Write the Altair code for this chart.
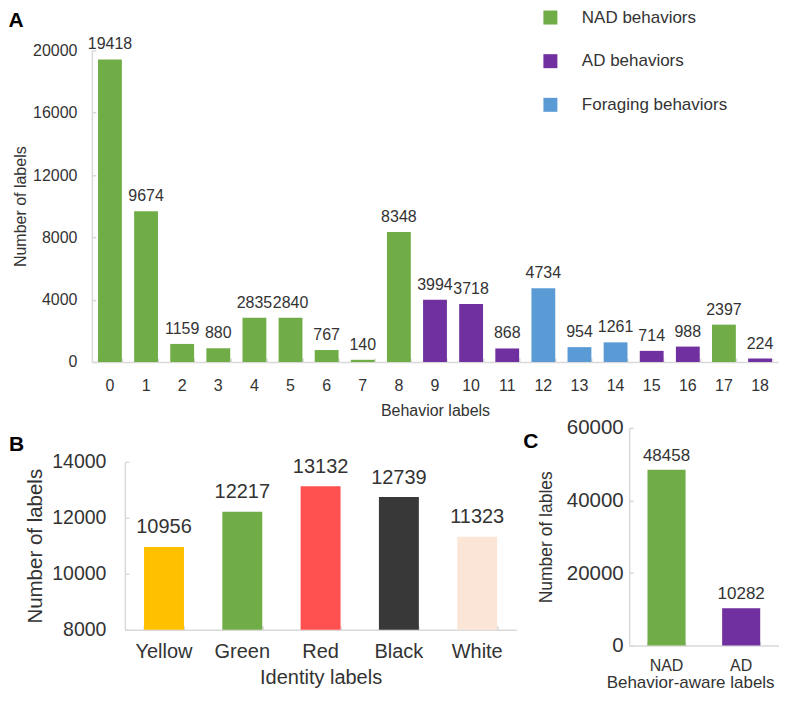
import altair as alt
import pandas as pd

# ---------------- data ----------------
behav_labels = list(range(19))
behav_counts = [19418, 9674, 1159, 880, 2835, 2840, 767, 140, 8348, 3994,
                3718, 868, 4734, 954, 1261, 714, 988, 2397, 224]
behav_groups = ["NAD behaviors"] * 9 + ["AD behaviors"] * 3 + ["Foraging behaviors"] * 3 + \
               ["AD behaviors", "AD behaviors", "NAD behaviors", "AD behaviors"]
group_names = ["NAD behaviors", "AD behaviors", "Foraging behaviors"]
group_colors = ["#70AD47", "#7030A0", "#5B9BD5"]
ticksA = [0, 4000, 8000, 12000, 16000, 20000]

id_labels = ["Yellow", "Green", "Red", "Black", "White"]
id_counts = [10956, 12217, 13132, 12739, 11323]
id_colors = ["#FFC000", "#70AD47", "#FF5050", "#383838", "#FBE5D6"]
ticksB = [8000, 10000, 12000, 14000]

aware_labels = ["NAD", "AD"]
aware_counts = [48458, 10282]
aware_colors = ["#70AD47", "#7030A0"]
ticksC = [0, 20000, 40000, 60000]

FONT = "Liberation Sans"
TEXT = "#333333"
AXIS = "#D9D9D9"

WA, HA = 687.1, 312
WB, HB = 392, 202
WC, HC = 149.5, 218


def inner_x(h):
    # tick-only axis drawn on the bottom edge with ticks pointing up (inside)
    return alt.Axis(orient="top", offset=-h, labels=False, domain=False, title=None,
                    tickBand="extent", tickSize=4)


def inner_y(w, values):
    # tick-only axis drawn on the left edge with ticks pointing right (inside)
    return alt.Axis(orient="right", offset=-w, labels=False, domain=False, title=None,
                    values=values, tickSize=4)


# ---------------- panel A ----------------
dfA = pd.DataFrame({"label": behav_labels, "count": behav_counts, "group": behav_groups})
baseA = alt.Chart(dfA)
scxA = alt.Scale(paddingInner=0.34, paddingOuter=0.17, round=False)
scyA = alt.Scale(domain=[0, 20000], nice=False)
barsA = baseA.mark_bar().encode(
    x=alt.X("label:O", scale=scxA,
            axis=alt.Axis(title="Behavior labels", labelAngle=0, labelFontSize=16,
                          titleFontSize=16, tickSize=0, labelPadding=16, titlePadding=9)),
    y=alt.Y("count:Q", scale=scyA,
            axis=alt.Axis(title="Number of labels", values=ticksA, format="d",
                          labelFontSize=16, titleFontSize=16, tickSize=0,
                          labelPadding=15, titlePadding=4)),
    color=alt.Color("group:N", scale=alt.Scale(domain=group_names, range=group_colors),
                    legend=alt.Legend(title=None, orient="none", legendX=450.6, legendY=-41.4,
                                      symbolType="square", symbolSize=196, symbolStrokeWidth=0,
                                      labelFontSize=17, labelOffset=23, rowPadding=25.7,
                                      padding=0)))
textA = baseA.mark_text(baseline="alphabetic", dy=-10, fontSize=16, color=TEXT).encode(
    x=alt.X("label:O", scale=scxA, axis=inner_x(HA)),
    y=alt.Y("count:Q", scale=scyA, axis=inner_y(WA, ticksA)),
    text=alt.Text("count:Q", format="d"))
A = (barsA + textA).resolve_axis(x="independent", y="independent").properties(
    width=WA, height=HA,
    title=alt.TitleParams("A", anchor="start", frame="group", dx=-83.4, offset=-22,
                          fontSize=21, fontWeight="bold", color="#000000"))

# ---------------- panel B ----------------
dfB = pd.DataFrame({"label": id_labels, "count": id_counts, "color": id_colors})
baseB = alt.Chart(dfB)
scxB = alt.Scale(paddingInner=0.49, paddingOuter=0.245, round=False)
scyB = alt.Scale(domain=[8000, 14000], nice=False, zero=False, range=[HB, 34])
barsB = baseB.mark_bar(clip=True).encode(
    x=alt.X("label:N", sort=id_labels, scale=scxB,
            axis=alt.Axis(title="Identity labels", labelAngle=0, labelFontSize=20,
                          titleFontSize=20, tickSize=0, labelPadding=11.7, titlePadding=6.7)),
    y=alt.Y("count:Q", scale=scyB,
            axis=alt.Axis(title="Number of labels", values=ticksB, format="d",
                          labelFontSize=19.5, titleFontSize=20.5, tickSize=0,
                          labelPadding=19, titlePadding=6)),
    color=alt.Color("color:N", scale=None))
textB = baseB.mark_text(baseline="alphabetic", dy=-13.5, fontSize=20, color=TEXT).encode(
    x=alt.X("label:N", sort=id_labels, scale=scxB, axis=inner_x(HB)),
    y=alt.Y("count:Q", scale=scyB, axis=inner_y(WB, ticksB)),
    text=alt.Text("count:Q", format="d"))
B = (barsB + textB).resolve_axis(x="independent", y="independent").properties(
    width=WB, height=HB,
    title=alt.TitleParams("B", anchor="start", frame="group", dx=-116, dy=35, offset=8,
                          fontSize=21, fontWeight="bold", color="#000000"))

# ---------------- panel C ----------------
dfC = pd.DataFrame({"label": aware_labels, "count": aware_counts, "color": aware_colors})
baseC = alt.Chart(dfC)
scxC = alt.Scale(paddingInner=0.49, paddingOuter=0.245, round=False)
scyC = alt.Scale(domain=[0, 60000], nice=False)
barsC = baseC.mark_bar().encode(
    x=alt.X("label:N", sort=aware_labels, scale=scxC,
            axis=alt.Axis(title="Behavior-aware labels", labelAngle=0, labelFontSize=16,
                          titleFontSize=17, tickSize=0, labelPadding=11.6, titlePadding=1.5,
                          titleX=61, titleAlign="center")),
    y=alt.Y("count:Q", scale=scyC,
            axis=alt.Axis(title="Number of lables", values=ticksC, format="d",
                          labelFontSize=20.5, titleFontSize=17.5, tickSize=0,
                          labelPadding=6, titlePadding=11)),
    color=alt.Color("color:N", scale=None))
textC = baseC.mark_text(baseline="alphabetic", dy=-9, fontSize=17, color=TEXT).encode(
    x=alt.X("label:N", sort=aware_labels, scale=scxC, axis=inner_x(HC)),
    y=alt.Y("count:Q", scale=scyC, axis=inner_y(WC, ticksC)),
    text=alt.Text("count:Q", format="d"))
C = (barsC + textC).resolve_axis(x="independent", y="independent").properties(
    width=WC, height=HC,
    title=alt.TitleParams("C", anchor="start", frame="group", dx=-106, dy=42, offset=8,
                          fontSize=21, fontWeight="bold", color="#000000"))


def spacer(w, h):
    return alt.Chart(pd.DataFrame({"v": [0]})).mark_point(opacity=0, size=1).encode(
        x=alt.X("v:Q", axis=None), y=alt.Y("v:Q", axis=None)).properties(width=w, height=h)


row2 = alt.hconcat(spacer(32.6, 1), B, spacer(113, 1), C, spacing=0, bounds="flush").resolve_scale(
    x="independent", y="independent", color="independent")

chart = alt.vconcat(A, row2, spacing=66, bounds="flush", padding=0).resolve_scale(
    x="independent", y="independent", color="independent"
).configure(font=FONT).configure_view(stroke=None).configure_axis(
    grid=False, domainColor=AXIS, domainWidth=1.5, tickColor=AXIS, tickWidth=1.5,
    labelColor=TEXT, titleColor=TEXT, titleFontWeight="normal", labelFont=FONT, titleFont=FONT
).configure_title(font=FONT).configure_legend(labelFont=FONT, labelColor=TEXT)

chart.save("out.html", embed_options={"renderer": "svg", "actions": False})
